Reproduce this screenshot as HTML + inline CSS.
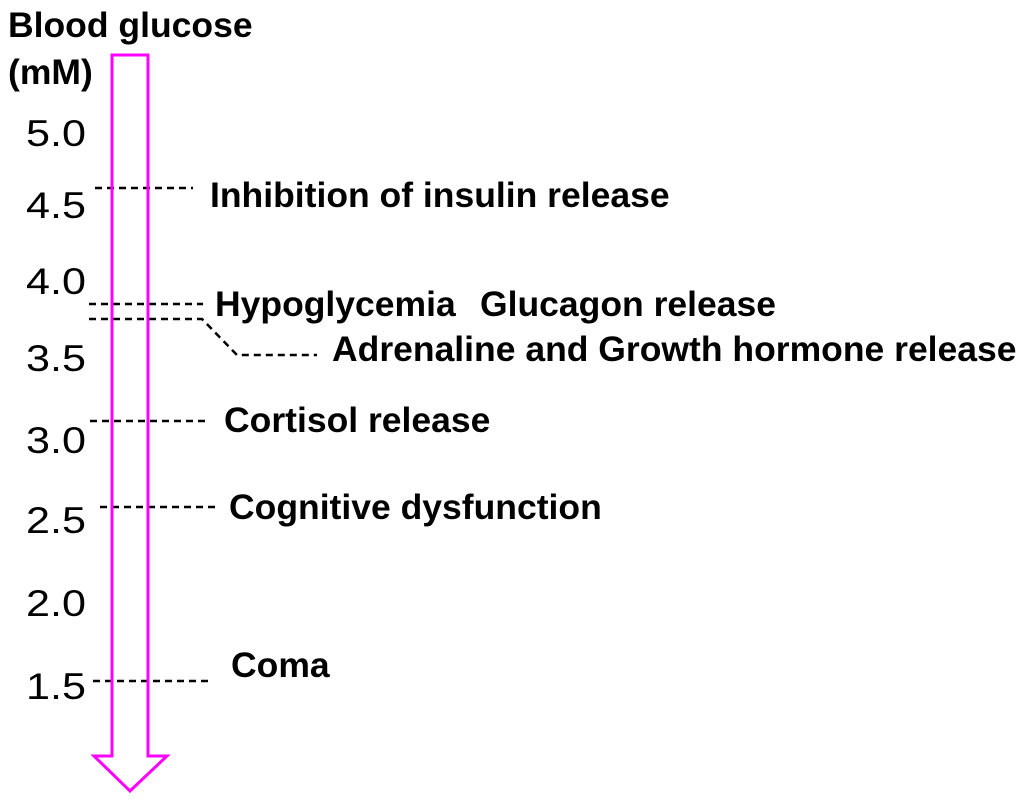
<!DOCTYPE html>
<html><head><style>
body{margin:0;background:#fff;width:1024px;height:801px;position:relative;overflow:hidden;font-family:"Liberation Sans",Arial,sans-serif;}
.t{position:absolute;white-space:nowrap;color:#000;line-height:1;}
.b{font-weight:bold;font-size:35.5px;}
.n{font-size:37.5px;left:26px;transform:scaleX(1.15);transform-origin:0 0;}
</style></head><body>
<svg width="1024" height="801" style="position:absolute;left:0;top:0">
<g stroke="#000" stroke-width="2.5" stroke-dasharray="7,5" fill="none">
<line x1="95" y1="188" x2="193" y2="188"/>
<line x1="89" y1="304" x2="203" y2="304"/>
<polyline points="89,319 202,319 237,355 317,355"/>
<line x1="90" y1="421" x2="206" y2="421"/>
<line x1="100" y1="507" x2="218" y2="507"/>
<line x1="93" y1="681" x2="211" y2="681"/>
</g>
<polygon points="112,55 148,55 148,756 167,756 130,791 94,756 112,756" fill="none" stroke="#ff00ff" stroke-width="3"/>
</svg>
<div class="t b" style="left:8px;top:8px">Blood glucose</div>
<div class="t b" style="left:8px;top:55px">(mM)</div>
<div class="t n" style="top:115px">5.0</div>
<div class="t n" style="top:187px">4.5</div>
<div class="t n" style="top:263px">4.0</div>
<div class="t n" style="top:340px">3.5</div>
<div class="t n" style="top:422px">3.0</div>
<div class="t n" style="top:502px">2.5</div>
<div class="t n" style="top:585px">2.0</div>
<div class="t n" style="top:668px">1.5</div>
<div class="t b" style="left:210px;top:178px">Inhibition of insulin release</div>
<div class="t b" style="left:215px;top:287px">Hypoglycemia</div>
<div class="t b" style="left:480px;top:287px">Glucagon release</div>
<div class="t b" style="left:332px;top:332px">Adrenaline and Growth hormone release</div>
<div class="t b" style="left:224px;top:403px">Cortisol release</div>
<div class="t b" style="left:229px;top:490px">Cognitive dysfunction</div>
<div class="t b" style="left:231px;top:648px">Coma</div>
</body></html>
